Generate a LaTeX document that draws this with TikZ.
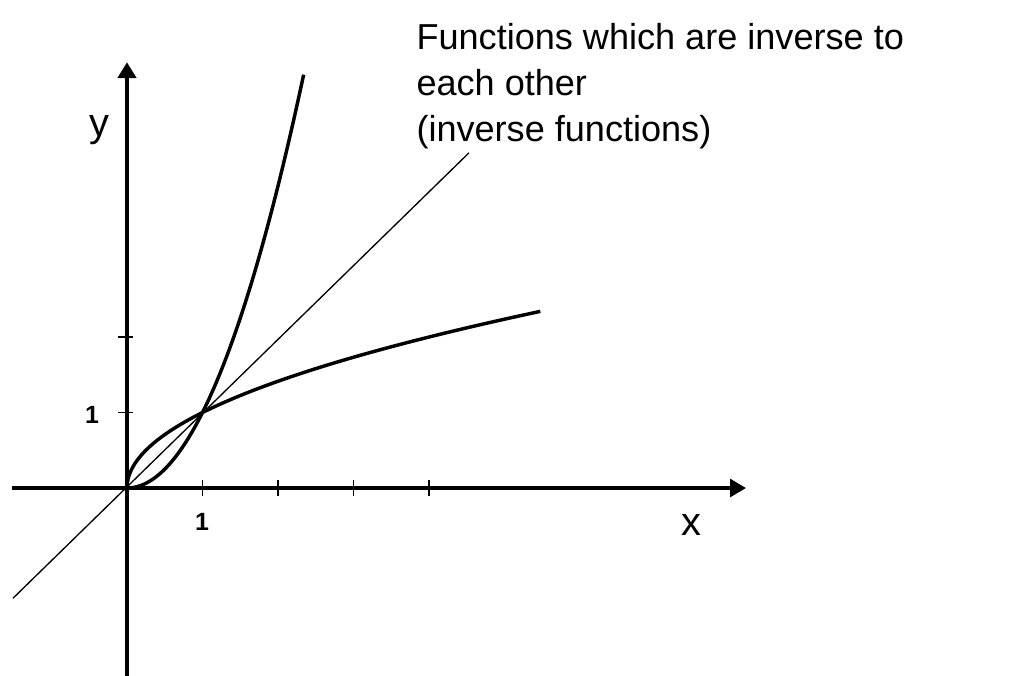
\documentclass[tikz,border=0pt]{standalone}
\usepackage{fontspec}
\setmainfont{Liberation Sans}
\usetikzlibrary{arrows.meta}
\begin{document}
\begin{tikzpicture}[x=1cm,y=1cm]
	\useasboundingbox (-1.682,-2.477) rectangle (11.709,6.464);
	% axes
	\draw[line width=1.5pt,-{Triangle[length=0.21cm,width=0.23cm]}] (-1.523,0) -- (8.20,0);
	\draw[line width=1.5pt,-{Triangle[length=0.21cm,width=0.24cm]}] (0,-2.5) -- (0,5.64);
	\foreach \t in {1,2,3,4}
		\draw[line width=0.55pt] (\t,-0.1) -- (\t,0.1);
	\foreach \t in {1,2}
		\draw[line width=0.55pt] (-0.12,\t) -- (0.08,\t);
	% line y = x
	\draw[line width=0.5pt] (-1.51,-1.46) -- (4.53,4.44);
	% the two curves
	\draw[line width=1.3pt,smooth,samples=60,domain=0:2.34] plot (\x,{\x*\x});
	\draw[line width=1.3pt,smooth,samples=60,domain=0:2.34] plot ({\x*\x},\x);
	\node[font=\fontsize{15}{18}\selectfont,anchor=base] (ylab) at (-0.371,4.66) {y};
	\node[font=\fontsize{15}{18}\selectfont,anchor=base] (xlab) at (7.48,-0.623) {x};
	\node[font=\fontsize{9.4}{11}\selectfont\bfseries,anchor=base] (yone) at (-0.464,0.861) {1};
	\node[font=\fontsize{9.4}{11}\selectfont\bfseries,anchor=base] (xone) at (0.993,-0.556) {1};
	\node[font=\fontsize{13.6}{16}\selectfont,anchor=base west,inner sep=0pt] (titleA) at (3.828,5.815) {Functions which are inverse to};
	\node[font=\fontsize{13.6}{16}\selectfont,anchor=base west,inner sep=0pt] (titleB) at (3.828,5.205) {each other};
	\node[font=\fontsize{13.6}{16}\selectfont,anchor=base west,inner sep=0pt] (titleC) at (3.828,4.596) {(inverse functions)};
\end{tikzpicture}
\end{document}
